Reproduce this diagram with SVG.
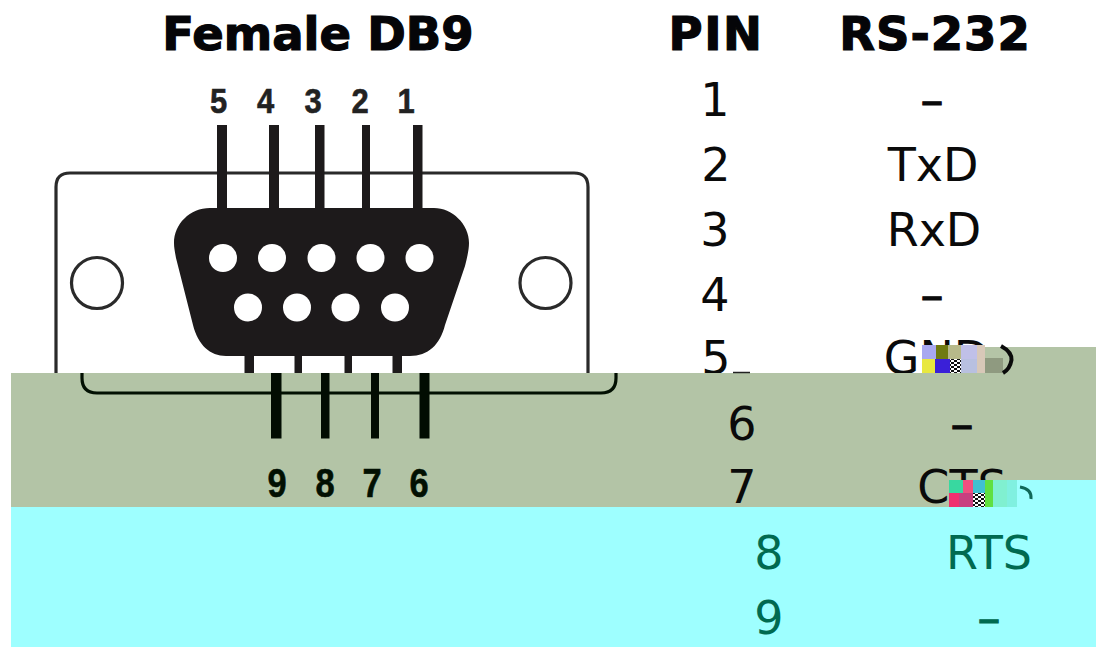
<svg xmlns="http://www.w3.org/2000/svg" width="1096" height="647" viewBox="0 0 1096 647">
<style>
.h{font-family:"DejaVu Sans",sans-serif;font-weight:700;font-size:46.5px;fill:#050508;stroke:#050508;stroke-width:1.2px;text-anchor:middle}
.t{font-family:"DejaVu Sans",sans-serif;font-size:46px;fill:#0a0a0a;text-anchor:middle}
.d{stroke:#0a0a0a;stroke-width:1px}
.c{fill:#006a50}
.dc{stroke:#006a50;stroke-width:1px}
.n{font-family:"Liberation Sans",sans-serif;font-weight:700;font-size:36px;fill:#222;stroke:#222;stroke-width:.6px;text-anchor:middle}
.m{font-family:"Liberation Sans",sans-serif;font-weight:700;font-size:41px;fill:#021002;stroke:#021002;stroke-width:.6px;text-anchor:middle}
.o{fill:none;stroke:#2a2a2a;stroke-width:3.2}
.hole{fill:#fff}
.screw{fill:#fff;stroke:#2a2a2a;stroke-width:3.2}
.pin{fill:#1d1a1b}
.lo{fill:#020d02}
</style>
<defs>
<clipPath id="above"><rect x="0" y="0" width="1096" height="373"/></clipPath>
<pattern id="chk" width="6" height="4" patternUnits="userSpaceOnUse"><rect width="6" height="4" fill="#fff"/><rect width="3" height="2" fill="#111"/><rect x="3" y="2" width="3" height="2" fill="#111"/></pattern>
</defs>
<rect width="1096" height="647" fill="#fff"/>
<g id="plate">
<path class="o" d="M56 373V187Q56 173 70 173H574Q588 173 588 187V373"/>
<circle class="screw" cx="97" cy="283" r="25.5"/>
<circle class="screw" cx="545.500" cy="283" r="25.500"/>
</g>
<g id="pins-top">
<rect class="pin" x="217" y="125" width="10" height="84"/>
<rect class="pin" x="269" y="125" width="10" height="84"/>
<rect class="pin" x="315" y="125" width="9.500" height="84"/>
<rect class="pin" x="362" y="125" width="8" height="84"/>
<rect class="pin" x="413" y="125" width="9.500" height="84"/>
<rect class="pin" x="244.500" y="350" width="9.500" height="23"/>
<rect class="pin" x="294.500" y="350" width="7.500" height="23"/>
<rect class="pin" x="344.500" y="350" width="7.500" height="23"/>
<rect class="pin" x="392.500" y="350" width="9.500" height="23"/>
</g>
<g id="shell">
<path fill="#1d1a1b" d="M210 208H434C452 208 469 224 469 243C469 250 467 258 465 266L445 325C440 345 428 356 410 356H226C210 356 198 345 193 325L176 258C175 252 174 248 174 243C174 224 190 208 210 208Z"/>
<g>
<circle class="hole" cx="223" cy="258" r="14"/><circle class="hole" cx="272" cy="258" r="14"/><circle class="hole" cx="321.500" cy="258" r="14"/><circle class="hole" cx="370.500" cy="258" r="14"/><circle class="hole" cx="419.500" cy="258" r="14"/>
<circle class="hole" cx="248" cy="307.500" r="14"/><circle class="hole" cx="297" cy="307.500" r="14"/><circle class="hole" cx="345.500" cy="307.500" r="14"/><circle class="hole" cx="395" cy="307.500" r="14"/>
</g>
</g>
<g id="bands">
<path fill="#b3c4a6" d="M11 373H1003V347H1096V480H1017V507H11Z"/>
<path fill="#9effff" d="M11 507H949V480H1096V647H11Z"/>
</g>
<g id="plate-lower">
<path fill="none" stroke="#021002" stroke-width="3.2" d="M82 373V378Q82 393 97 393H601Q616 393 616 378V373"/>
<rect class="lo" x="271" y="373" width="10.500" height="65.500"/>
<rect class="lo" x="321" y="373" width="8.500" height="65.500"/>
<rect class="lo" x="371" y="373" width="8" height="65.500"/>
<rect class="lo" x="419.500" y="373" width="10" height="65.500"/>
</g>
<g id="pin-numbers">
<text class="n" transform="translate(218.500 113) scale(.86 1)">5</text>
<text class="n" transform="translate(265.500 113) scale(.86 1)">4</text>
<text class="n" transform="translate(313 113) scale(.86 1)">3</text>
<text class="n" transform="translate(360 113) scale(.86 1)">2</text>
<text class="n" transform="translate(406 113) scale(.86 1)">1</text>
<text class="m" transform="translate(277 497) scale(.84 1)">9</text>
<text class="m" transform="translate(325 497) scale(.84 1)">8</text>
<text class="m" transform="translate(372 497) scale(.84 1)">7</text>
<text class="m" transform="translate(419 497) scale(.84 1)">6</text>
</g>
<g id="table">
<text class="h" x="318" y="50">Female DB9</text>
<text class="h" x="716" y="50" letter-spacing="1.500">PIN</text>
<text class="h" x="935" y="50" letter-spacing="1">RS-232</text>
<text class="t" x="715" y="116">1</text><text class="t d" x="932" y="116" font-size="52">–</text>
<text class="t" x="716" y="181">2</text><text class="t" x="933" y="181">TxD</text>
<text class="t" x="715" y="246">3</text><text class="t" x="934" y="246">RxD</text>
<text class="t" x="715" y="311">4</text><text class="t d" x="932" y="311">–</text>
<g clip-path="url(#above)"><text class="t" x="716" y="374">5</text><text class="t" x="936.500" y="374">GND</text></g>
<path d="M733 372.500H750" stroke="#222" stroke-width="1.500"/>
<text class="t" x="742" y="440">6</text><text class="t d" x="962" y="440">–</text>
<text class="t" x="742" y="503">7</text><text class="t" x="962" y="503">CTS</text>
<text class="t c" x="769" y="569">8</text><text class="t c" x="989" y="569">RTS</text>
<text class="t c" x="769" y="634">9</text><text class="t c dc" x="989" y="634">–</text>
</g>
<g id="noise-row-5">
<rect x="922" y="345" width="14" height="14" fill="#a8a8f0"/>
<rect x="936" y="345" width="12" height="14" fill="#6f7a10"/>
<rect x="948" y="345" width="13" height="14" fill="#b7b98a"/>
<rect x="961" y="345" width="16" height="14" fill="#c0c0e8"/>
<rect x="977" y="345" width="8" height="28" fill="#d8c8b8"/>
<rect x="985" y="347" width="18" height="11" fill="#b4c4a6"/>
<rect x="922" y="359" width="13" height="14" fill="#e8e840"/>
<rect x="935" y="359" width="15" height="14" fill="#3a20d8"/>
<rect x="950" y="359" width="11" height="14" fill="url(#chk)"/>
<rect x="961" y="359" width="16" height="14" fill="#b8c0e0"/>
<rect x="985" y="358" width="18" height="15" fill="#8f9a80"/>
<path d="M1001 346Q1012 352 1011.500 360Q1010 369 1003 373" fill="none" stroke="#0a0a0a" stroke-width="4"/>
</g>
<g id="noise-row-7">
<rect x="949" y="480" width="14" height="13" fill="#38d8a0"/>
<rect x="963" y="480" width="10" height="13" fill="#f05080"/>
<rect x="973" y="480" width="12" height="13" fill="#40c0d0"/>
<rect x="985" y="480" width="8" height="27" fill="#60e040"/>
<rect x="993" y="480" width="14" height="27" fill="#80f0d0"/>
<rect x="1007" y="480" width="10" height="27" fill="#80f0e0"/>
<rect x="949" y="493" width="10" height="14" fill="#f03070"/>
<rect x="959" y="493" width="14" height="14" fill="#c84080"/>
<rect x="973" y="493" width="12" height="14" fill="url(#chk)"/>
<path d="M1020 487Q1032 489 1031 499" fill="none" stroke="#106858" stroke-width="3"/>
</g>
</svg>
